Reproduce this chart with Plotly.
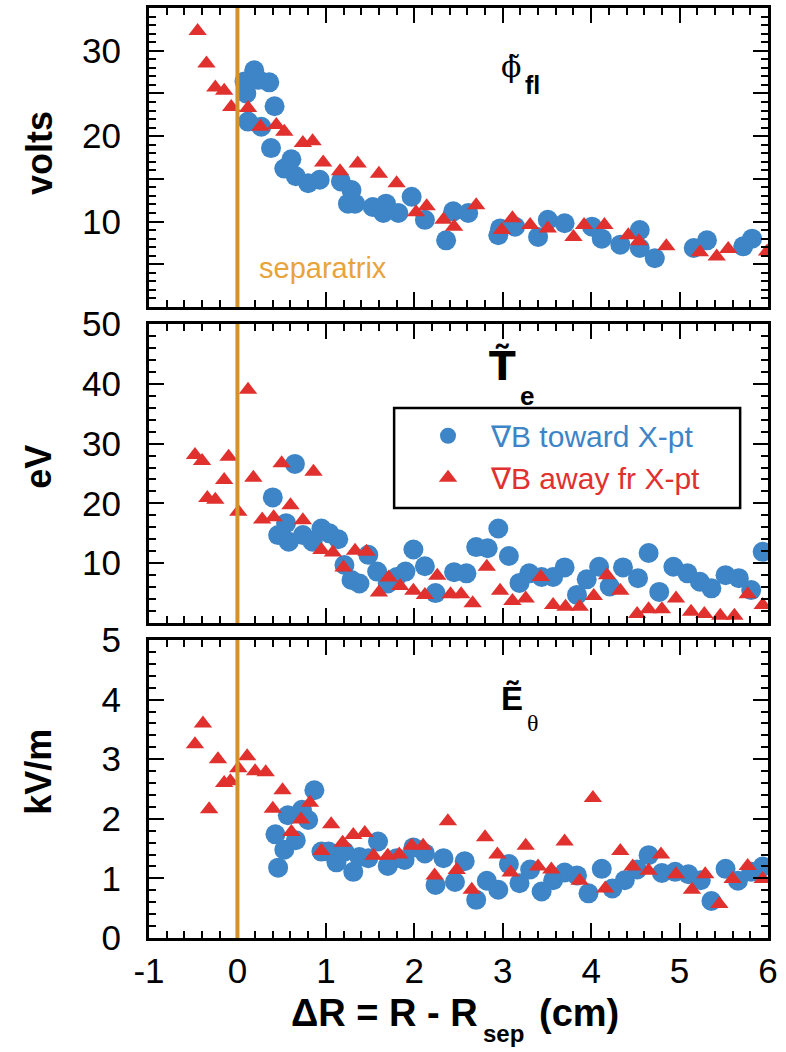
import plotly.graph_objects as go

# ---- floating potential fluctuation (volts) ----
phi_toward_x = [0.08, 0.10, 0.12, 0.19, 0.24, 0.27, 0.36, 0.38, 0.42, 0.53, 0.61, 0.66, 0.80, 0.93,
                1.17, 1.25, 1.29, 1.33, 1.53, 1.65, 1.68, 1.82, 1.97, 2.12, 2.36, 2.44, 2.61, 2.95,
                2.97, 3.14, 3.40, 3.51, 3.70, 4.01, 4.12, 4.33, 4.55, 4.55, 4.72, 5.16, 5.31, 5.72, 5.82]
phi_toward_y = [26.4, 25.0, 21.7, 27.7, 26.6, 21.1, 26.3, 18.6, 23.5, 16.2, 17.3, 15.3, 14.5, 14.9,
                14.7, 12.1, 13.7, 12.1, 11.7, 11.0, 12.1, 11.0, 12.9, 10.2, 7.8, 11.2, 11.0, 8.4,
                9.2, 9.4, 8.2, 10.2, 9.8, 9.4, 8.0, 7.3, 9.0, 6.9, 5.7, 6.9, 7.8, 7.1, 8.0]
phi_away_x = [-0.45, -0.35, -0.25, -0.15, -0.07, 0.12, 0.26, 0.44, 0.53, 0.74, 0.85, 0.97, 1.16,
              1.36, 1.60, 1.80, 2.02, 2.14, 2.33, 2.45, 2.70, 2.99, 3.11, 3.31, 3.51, 3.80, 3.92,
              4.15, 4.42, 4.54, 4.85, 5.23, 5.42, 5.55, 5.99]
phi_away_y = [32.3, 28.5, 25.7, 25.3, 23.4, 23.3, 21.1, 21.3, 20.5, 19.2, 19.4, 16.9, 15.9,
              16.8, 15.6, 14.5, 11.1, 11.8, 10.2, 9.4, 11.9, 9.0, 10.4, 9.6, 9.2, 8.2, 9.6,
              9.6, 8.4, 7.7, 7.1, 6.4, 5.9, 6.8, 6.5]

# ---- electron temperature fluctuation (eV) ----
te_toward_x = [0.40, 0.46, 0.55, 0.58, 0.65, 0.74, 0.85, 0.95, 1.04, 1.14, 1.21, 1.29, 1.38, 1.48,
               1.58, 1.70, 1.80, 1.90, 1.99, 2.12, 2.24, 2.45, 2.59, 2.70, 2.83, 2.95, 3.07, 3.19,
               3.30, 3.44, 3.57, 3.70, 3.84, 3.95, 4.09, 4.21, 4.36, 4.53, 4.65, 4.77, 4.93, 5.09,
               5.23, 5.36, 5.52, 5.67, 5.81, 5.94]
te_toward_y = [21.0, 14.7, 16.7, 13.6, 26.6, 14.7, 13.6, 15.8, 15.0, 14.0, 9.7, 7.2, 6.6, 11.4,
               8.6, 6.6, 7.7, 8.6, 12.3, 9.5, 5.0, 8.5, 8.3, 12.7, 12.5, 15.8, 11.2, 6.7,
               8.3, 7.7, 7.7, 9.3, 4.7, 7.3, 9.4, 6.1, 9.3, 7.5, 11.7, 5.2, 9.4, 8.3,
               6.9, 5.8, 8.0, 7.5, 5.5, 11.9]
te_away_x = [-0.48, -0.40, -0.34, -0.25, -0.15, -0.10, 0.01, 0.12, 0.18, 0.28, 0.41, 0.50, 0.60,
             0.74, 0.86, 0.95, 1.08, 1.20, 1.33, 1.46, 1.60, 1.71, 1.84, 1.99, 2.12, 2.26, 2.41,
             2.53, 2.66, 2.82, 2.97, 3.11, 3.26, 3.43, 3.57, 3.71, 3.87, 4.03, 4.18, 4.33, 4.52,
             4.65, 4.80, 4.96, 5.13, 5.28, 5.46, 5.62, 5.77, 5.94]
te_away_y = [28.1, 27.1, 20.9, 20.6, 23.9, 27.8, 18.6, 39.0, 24.3, 17.3, 17.7, 26.7, 19.7,
             17.2, 25.3, 12.2, 11.8, 9.3, 12.1, 11.9, 5.1, 7.6, 6.2, 5.4, 4.7, 7.9, 4.8,
             4.8, 3.3, 9.4, 5.4, 3.7, 4.1, 7.7, 3.0, 2.7, 2.7, 4.5, 8.0, 5.4, 1.5,
             2.3, 2.3, 4.1, 1.9, 1.5, 1.2, 1.2, 4.8, 3.0]

# ---- poloidal electric field fluctuation (kV/m) ----
e_toward_x = [0.43, 0.46, 0.53, 0.57, 0.66, 0.73, 0.80, 0.87, 0.95, 1.03, 1.12, 1.21, 1.31, 1.38,
              1.48, 1.59, 1.70, 1.80, 1.89, 1.99, 2.12, 2.24, 2.33, 2.46, 2.57, 2.70, 2.82, 2.95,
              3.07, 3.19, 3.31, 3.44, 3.57, 3.70, 3.84, 3.97, 4.12, 4.24, 4.38, 4.52, 4.65, 4.80,
              4.95, 5.10, 5.24, 5.36, 5.52, 5.66, 5.81, 5.94]
e_toward_y = [1.74, 1.18, 1.48, 2.06, 1.64, 2.15, 1.98, 2.48, 1.45, 1.45, 1.27, 1.45, 1.11, 1.36,
              1.34, 1.62, 1.21, 1.34, 1.31, 1.52, 1.42, 0.89, 1.34, 0.94, 1.29, 0.64, 0.96, 0.81,
              1.24, 0.92, 1.15, 0.78, 0.97, 1.10, 1.05, 0.75, 1.16, 0.83, 0.97, 1.15, 1.39, 1.09,
              1.11, 1.07, 0.97, 0.62, 1.16, 0.96, 1.11, 1.20]
e_away_x = [-0.48, -0.39, -0.32, -0.22, -0.15, -0.08, 0.01, 0.11, 0.20, 0.32, 0.40, 0.51, 0.61,
            0.72, 0.82, 0.95, 1.06, 1.19, 1.31, 1.44, 1.54, 1.70, 1.83, 1.97, 2.10, 2.23, 2.38,
            2.48, 2.65, 2.80, 2.94, 3.09, 3.26, 3.40, 3.55, 3.70, 3.87, 4.02, 4.16, 4.33, 4.47,
            4.65, 4.79, 4.96, 5.14, 5.29, 5.45, 5.60, 5.77, 5.94]
e_away_y = [3.25, 3.60, 2.16, 3.00, 2.60, 2.63, 2.85, 3.05, 2.80, 2.78, 2.17, 2.48, 1.78,
            1.99, 2.27, 1.46, 1.91, 1.60, 1.73, 1.76, 1.38, 1.38, 1.40, 1.55, 1.55, 1.05, 1.96,
            1.14, 0.81, 1.69, 1.40, 1.10, 1.55, 1.20, 1.15, 1.62, 0.96, 2.35, 0.83, 1.46, 1.20,
            1.13, 1.40, 1.07, 0.81, 1.07, 0.57, 0.99, 1.21, 0.99]

series_names = ["∇B toward X-pt", "∇B away fr X-pt"]
x_ticks = [-1, 0, 1, 2, 3, 4, 5, 6]
x_tick_text = ["-1", "0", "1", "2", "3", "4", "5", "6"]
separatrix_r = 0.0

BLUE = "#3d85c6"
RED = "#e0312f"
ORANGE = "#d4922a"
SANS = "Liberation Sans"

fig = go.Figure()

panels = [
    ("x", "y", phi_toward_x, phi_toward_y, phi_away_x, phi_away_y, False),
    ("x2", "y2", te_toward_x, te_toward_y, te_away_x, te_away_y, True),
    ("x3", "y3", e_toward_x, e_toward_y, e_away_x, e_away_y, False),
]
for xa, ya, bx, by, rx, ry, legend_on in panels:
    fig.add_trace(go.Scatter(
        x=bx, y=by, xaxis=xa, yaxis=ya, mode="markers",
        name=f'<span style="color:{BLUE}">{series_names[0]}</span>',
        legendgroup="toward", showlegend=legend_on,
        marker=dict(symbol="circle", size=20, color=BLUE, line=dict(width=0)),
    ))
    fig.add_trace(go.Scatter(
        x=rx, y=ry, xaxis=xa, yaxis=ya, mode="markers",
        name=f'<span style="color:{RED}">{series_names[1]}</span>',
        legendgroup="away", showlegend=legend_on,
        marker=dict(symbol="triangle-up", size=16, color=RED, line=dict(width=0)),
    ))

# plot-area geometry (paper fractions)
dom3 = [0.0, 0.3204]
dom2 = [0.3387, 0.6602]
dom1 = [0.6785, 1.0]

frame = dict(showline=True, linecolor="black", linewidth=3, mirror="ticks",
             ticks="inside", ticklen=15, tickwidth=2, tickcolor="black",
             showgrid=False, zeroline=False, automargin=False)

xcommon = dict(frame, range=[-1, 6], tickmode="array", tickvals=x_ticks, ticktext=x_tick_text,
               minor=dict(tickmode="linear", tick0=-1, dtick=0.2, ticks="inside",
                          ticklen=7, tickwidth=2, tickcolor="black", showgrid=False))

fig.update_layout(
    width=786, height=1052,
    margin=dict(l=149, r=18, t=8, b=114, autoexpand=False),
    paper_bgcolor="white", plot_bgcolor="white",
    font=dict(family=SANS, color="black"),
    xaxis=dict(xcommon, anchor="y", showticklabels=False),
    xaxis2=dict(xcommon, anchor="y2", showticklabels=False, matches="x"),
    xaxis3=dict(xcommon, anchor="y3", showticklabels=True, matches="x",
                tickfont=dict(family=SANS, size=35), ticklabelstandoff=0),
    yaxis=dict(frame, domain=dom1, anchor="x", range=[0, 35], tickmode="array",
               tickvals=[0, 5, 10, 15, 20, 25, 30, 35],
               ticktext=["", "", "10", "", "20", "", "30", ""],
               tickfont=dict(family=SANS, size=35), ticklabelstandoff=18,
               minor=dict(tickmode="linear", tick0=0, dtick=1, ticks="inside",
                          ticklen=7, tickwidth=2, tickcolor="black", showgrid=False)),
    yaxis2=dict(frame, domain=dom2, anchor="x2", range=[0, 50], tickmode="array",
                tickvals=[0, 10, 20, 30, 40, 50],
                ticktext=["", "10", "20", "30", "40", "50"],
                tickfont=dict(family=SANS, size=35), ticklabelstandoff=18,
                minor=dict(tickmode="linear", tick0=0, dtick=2, ticks="inside",
                           ticklen=7, tickwidth=2, tickcolor="black", showgrid=False)),
    yaxis3=dict(frame, domain=dom3, anchor="x3", range=[0, 5], tickmode="linear",
                tick0=0, dtick=1,
                tickfont=dict(family=SANS, size=35), ticklabelstandoff=18,
                minor=dict(tickmode="linear", tick0=0, dtick=0.2, ticks="inside",
                           ticklen=7, tickwidth=2, tickcolor="black", showgrid=False)),
    legend=dict(x=0.4136, y=0.568, xanchor="left", yanchor="top",
                bgcolor="rgba(0,0,0,0)", borderwidth=0,
                font=dict(family=SANS, size=30), itemwidth=76, tracegroupgap=0),
    showlegend=True,
)

# separatrix marker line in every panel
for xr, yr in [("x", "y"), ("x2", "y2"), ("x3", "y3")]:
    fig.add_shape(type="line", xref=xr, yref=f"{yr} domain", x0=separatrix_r, x1=separatrix_r,
                  y0=0, y1=1, line=dict(color=ORANGE, width=4), layer="above")

# legend frame
fig.add_shape(type="rect", xref="paper", yref="paper", x0=0.396, x1=0.955, y0=0.4624, y1=0.5699,
              line=dict(color="black", width=2.5), fillcolor="rgba(0,0,0,0)", layer="above")

ann = []
def label(text, x, y, xref, yref, size, family=SANS, color="black", xanchor="center",
          yanchor="middle", angle=0):
    ann.append(dict(text=text, x=x, y=y, xref=xref, yref=yref, showarrow=False,
                    xanchor=xanchor, yanchor=yanchor, textangle=angle,
                    font=dict(family=family, size=size, color=color)))

# y-axis titles
label("<b>volts</b>", -0.178, 0.844, "paper", "paper", 36, angle=-90)
label("<b>eV</b>", -0.178, 0.5065, "paper", "paper", 36, angle=-90)
label("<b>kV/m</b>", -0.178, 0.1785, "paper", "paper", 36, angle=-90)

# x-axis title with subscript
label("<b>ΔR = R - R</b>", 0.5347, -0.0806, "paper", "paper", 38, xanchor="right")
label("<b>sep</b>", 0.5363, -0.1032, "paper", "paper", 24, xanchor="left")
label("<b>(cm)</b>", 0.6268, -0.0806, "paper", "paper", 38, xanchor="left")

# separatrix caption
label("separatrix", 0.22, 4.6, "x", "y", 29, color="#e8a33d", xanchor="left")

# panel quantity labels (fluctuating quantities carry a tilde)
label("ϕ\u0303", 3.23, 28.1, "x", "y", 30, family="DejaVu Serif", xanchor="right")
label("<b>fl</b>", 3.23, 26.0, "x", "y", 25, xanchor="left")

label("<b>T\u0303</b>", 3.17, 43.0, "x2", "y2", 39, family="DejaVu Sans", xanchor="right")
label("<b>e</b>", 3.17, 37.9, "x2", "y2", 26, xanchor="left")

label("<b>\u1ebc</b>", 3.25, 4.02, "x3", "y3", 33, xanchor="right")
label("θ", 3.25, 3.60, "x3", "y3", 24, family="Liberation Serif", xanchor="left")

fig.update_layout(annotations=ann)

fig.write_html("out.html")
